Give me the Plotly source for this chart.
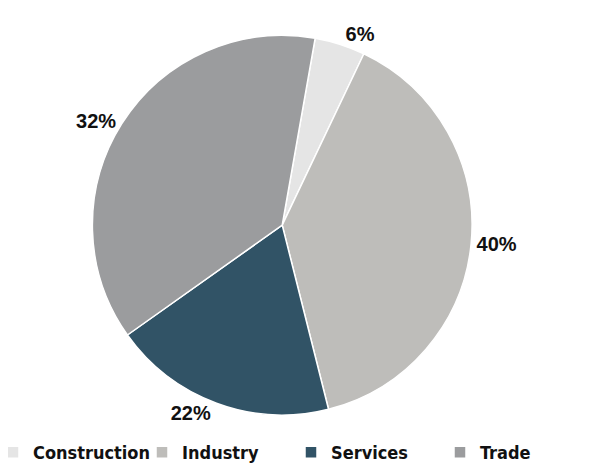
import plotly.graph_objects as go

sectors = ['Construction', 'Industry', 'Services', 'Trade']
slice_values = [4.3, 39.0, 19.1, 37.6]
pct_labels = ['6%', '40%', '22%', '32%']
colors = ['#e5e5e5', '#bebdba', '#315366', '#9b9c9e']

fig = go.Figure(go.Pie(
    labels=sectors,
    values=slice_values,
    text=pct_labels,
    textinfo='text',
    textposition='outside',
    sort=False,
    direction='clockwise',
    rotation=10,
    marker=dict(colors=colors, line=dict(color='white', width=1.5)),
    outsidetextfont=dict(family='Liberation Sans', size=20, color='#111111', weight='bold'),
    domain=dict(x=[0.139, 0.766], y=[0.121, 0.941]),
    hoverinfo='label+text',
))

fig.update_layout(
    width=606,
    height=463,
    margin=dict(l=0, r=0, t=0, b=0, autoexpand=False),
    paper_bgcolor='white',
    showlegend=True,
    legend=dict(
        orientation='h',
        x=0,
        y=0.0,
        yanchor='bottom',
        xanchor='left',
        indentation=-15,
        entrywidth=119,
        font=dict(family='DejaVu Sans Condensed, Roboto', size=18, color='#111111', weight='bold'),
        traceorder='normal',
        itemwidth=30,
    ),
)

fig.write_html("out.html")
